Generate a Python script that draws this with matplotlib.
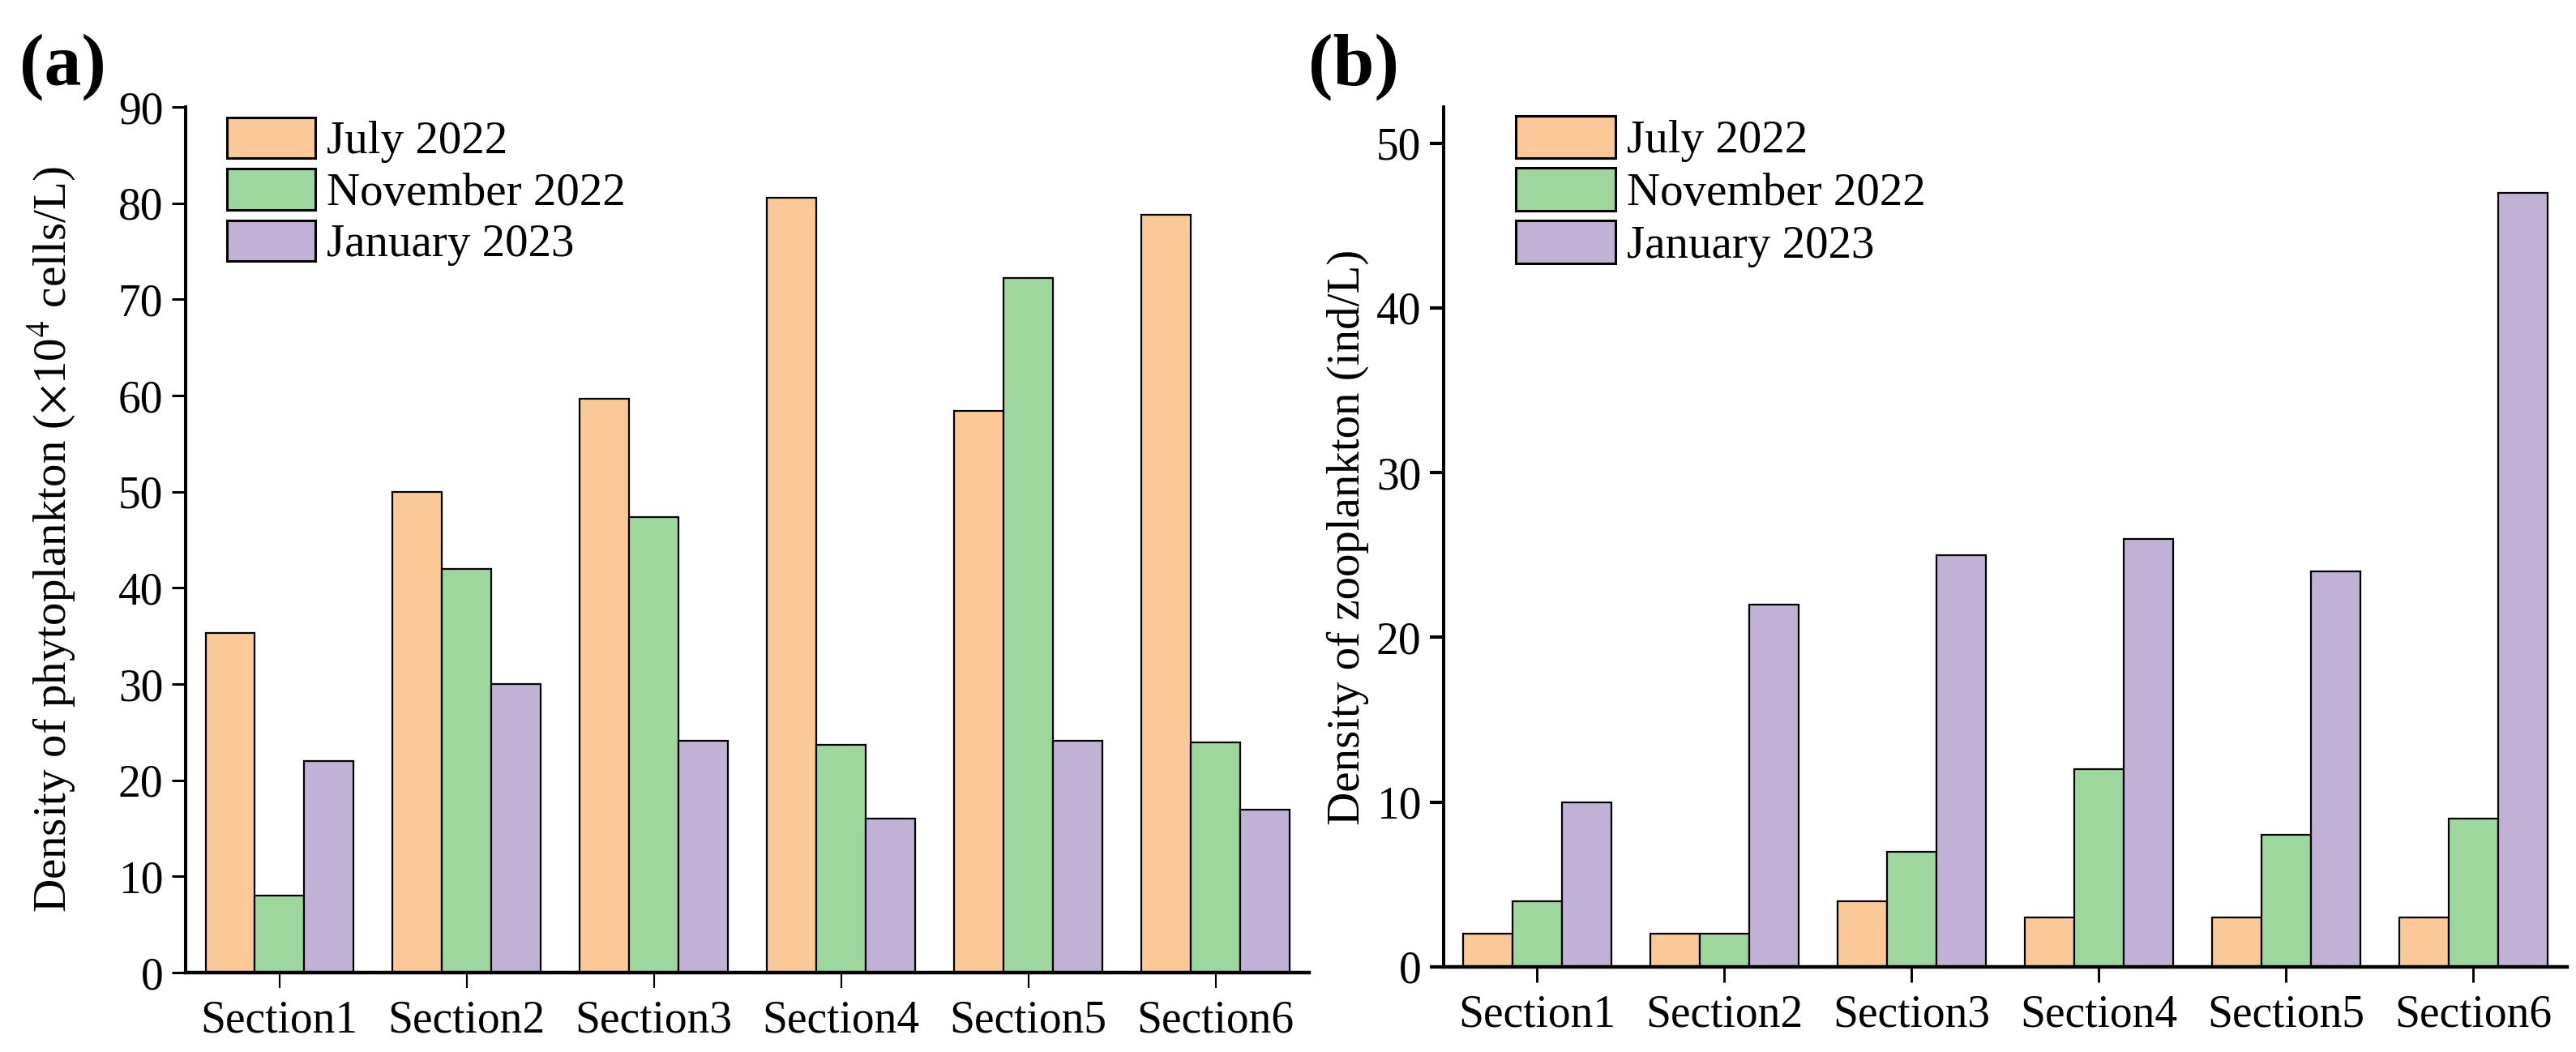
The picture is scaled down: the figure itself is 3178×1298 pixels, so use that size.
import numpy as np
import matplotlib
matplotlib.use("Agg")
import matplotlib.pyplot as plt

plt.rcParams['font.family'] = ['Liberation Serif', 'DejaVu Serif']
plt.rcParams['mathtext.fontset'] = 'stix'

sections = ["Section1", "Section2", "Section3", "Section4", "Section5", "Section6"]
periods = ["July 2022", "November 2022", "January 2023"]
colors = ["#FBC897", "#9ED79D", "#C2B1D6"]

# phytoplankton density (x10^4 cells/L)
phyto_jul = [35.3, 50.0, 59.7, 80.6, 58.4, 78.8]
phyto_nov = [8.0, 42.0, 47.4, 23.7, 72.2, 23.9]
phyto_jan = [22.0, 30.0, 24.1, 16.0, 24.1, 16.9]

# zooplankton density (ind/L)
zoo_jul = [2, 2, 4, 3, 3, 3]
zoo_nov = [4, 2, 7, 12, 8, 9]
zoo_jan = [10, 22, 25, 26, 24, 47]

FS = 40
LFS = 41

fig = plt.figure(figsize=(31.78, 12.98), dpi=100)
ax1 = fig.add_axes([0.0721, 0.0755, 0.4361, 0.8228])
ax2 = fig.add_axes([0.5604, 0.0809, 0.4361, 0.8174])


def draw_panel(ax, series, width, ylim, yticks, ylabel, tick_w, lpad,
               leg_xy, hlen, hhei):
    x = np.arange(len(sections))
    for i, (vals, c, lab) in enumerate(zip(series, colors, periods)):
        ax.bar(x + (i - 1) * width, vals, width, color=c, edgecolor='black',
               linewidth=1.6, label=lab, zorder=2)
    ax.set_xlim(-0.5, 5.5)
    ax.set_ylim(*ylim)
    ax.set_xticks(x)
    ax.set_xticklabels(sections, fontsize=FS)
    ax.set_yticks(yticks)
    ax.tick_params(axis='y', labelsize=FS, length=12, width=tick_w, pad=8)
    ax.tick_params(axis='x', length=14, width=tick_w * 0.7, pad=10)
    ax.set_ylabel(ylabel, fontsize=LFS, labelpad=lpad)
    for s in ['top', 'right']:
        ax.spines[s].set_visible(False)
    ax.spines['left'].set_linewidth(2.9)
    ax.spines['bottom'].set_linewidth(3.2)
    ax.spines['bottom'].set_zorder(3)
    ax.legend(fontsize=LFS, loc='upper left', bbox_to_anchor=leg_xy,
              frameon=False, handlelength=hlen, handleheight=hhei,
              labelspacing=0.12, handletextpad=0.25, borderaxespad=0.0,
              borderpad=0.0)
    for p in ax.get_legend().get_patches():
        p.set_linewidth(2.2)


draw_panel(ax1, [phyto_jul, phyto_nov, phyto_jan], 0.263, (0, 90),
           np.arange(0, 91, 10), r'Density of phytoplankton ($\times$10$^4$ cells/L)',
           2.2, 36, (0.037, 0.988), 1.9, 0.98)
draw_panel(ax2, [zoo_jul, zoo_nov, zoo_jan], 0.265, (0, 52.2),
           np.arange(0, 51, 10), 'Density of zooplankton (ind/L)',
           3.0, 6, (0.064, 0.99), 2.16, 1.05)

fig.text(0.0075, 0.968, '(a)', fontsize=66, fontweight='bold', va='top', ha='left')
fig.text(0.508, 0.968, '(b)', fontsize=66, fontweight='bold', va='top', ha='left')

fig.savefig('out.png', dpi=100)
